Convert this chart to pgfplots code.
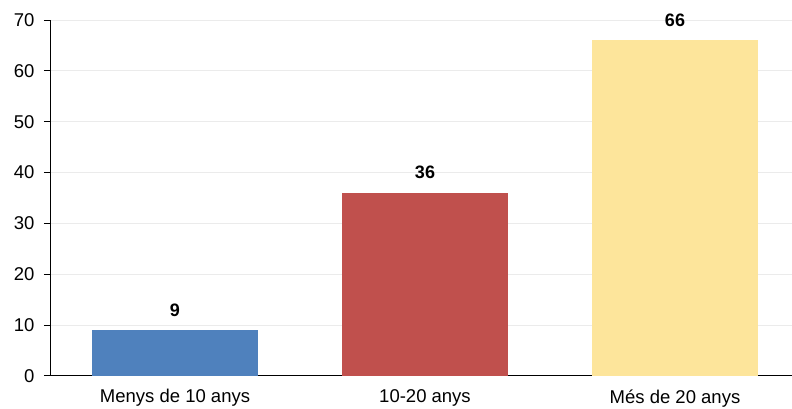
\documentclass[border=0pt]{standalone}
\usepackage{pgfplots}
\pgfplotsset{compat=1.18}
\usepackage{fontspec}
\setmainfont{Liberation Sans}
\definecolor{cblue}{HTML}{4F81BD}
\definecolor{cred}{HTML}{C0504D}
\definecolor{cyel}{HTML}{FDE59B}
\definecolor{cgrid}{HTML}{EBEBEB}
\begin{document}
\begin{tikzpicture}[x=1pt,y=1pt]
\useasboundingbox (0,0) rectangle (792,409);
\begin{axis}[
  at={(50pt,33pt)}, anchor=south west,
  scale only axis, width=742pt, height=356pt,
  xmin=-0.5, xmax=2.468, ymin=0, ymax=70,
  axis x line*=bottom, axis y line*=left,
  axis line style={black, line width=1pt, -},
  xtick={0,1,2},
  xticklabels={Menys de 10 anys, 10-20 anys, Més de 20 anys},
  x tick style={draw=none},
  extra x ticks={0.5,1.5},
  extra x tick labels={},
  extra x tick style={major tick length=6pt, tick align=outside, tick style={black, line width=1pt}, grid=none},
  ytick={0,10,...,70},
  ymajorgrids, grid style={cgrid, line width=1pt},
  y tick style={black, line width=1pt},
  tick align=outside, major tick length=6pt,
  tick label style={font=\fontsize{18.5}{20}\selectfont},
  /pgf/number format/assume math mode=true,
  yticklabel style={xshift=-6pt},
  xticklabel style={yshift=-4pt},
  ybar, bar width=166pt, bar shift=0pt,
  nodes near coords,
  nodes near coords style={font=\fontsize{18}{20}\selectfont\bfseries, anchor=south, yshift=10.5pt},
  clip=false,
]
\addplot[fill=cblue, draw=none] coordinates {(0,9)};
\addplot[fill=cred, draw=none] coordinates {(1,36)};
\addplot[fill=cyel, draw=none] coordinates {(2,66)};
\end{axis}
\end{tikzpicture}
\end{document}
